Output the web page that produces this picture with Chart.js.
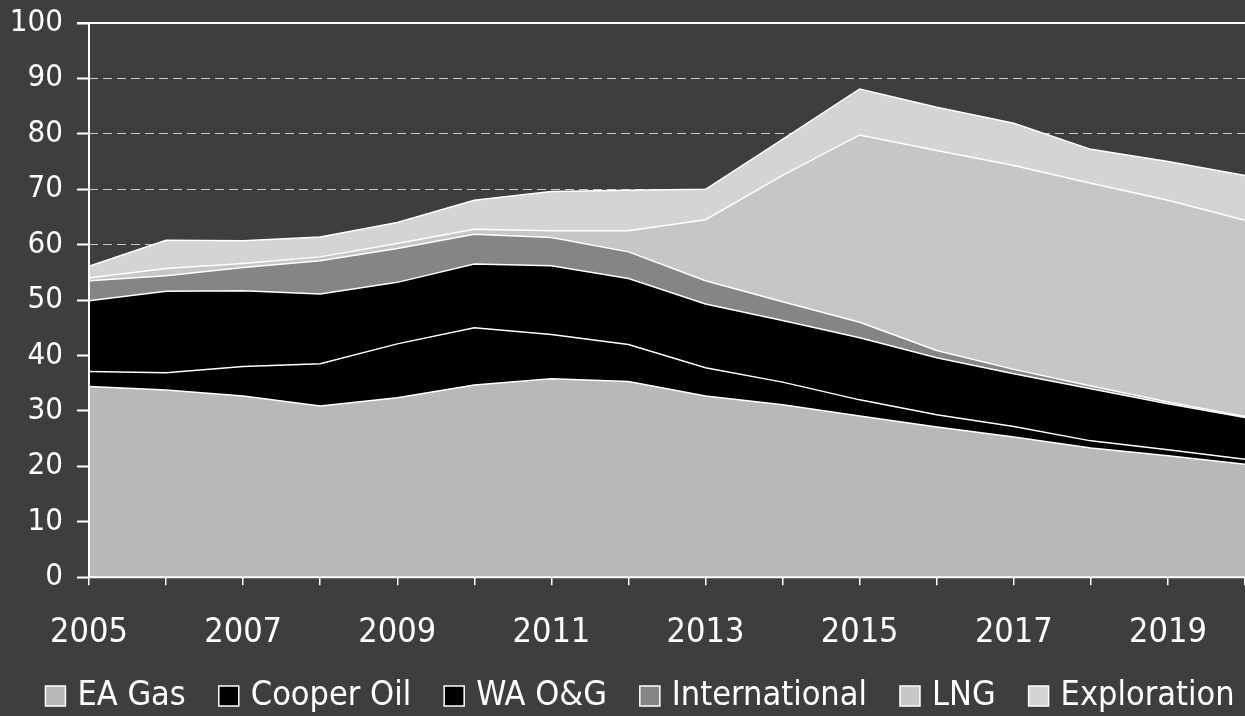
<!DOCTYPE html>
<html>
<head>
<meta charset="utf-8">
<script src="https://cdn.jsdelivr.net/npm/chart.js@4.4.1/dist/chart.umd.min.js"></script>
<style>
  html, body { margin: 0; padding: 0; background: #3e3e3e; }
  #wrap { width: 1245px; height: 716px; position: relative; }
</style>
</head>
<body>
<div id="wrap"><canvas id="chart"></canvas></div>
<script>
// Production by business unit, mmboe per year
const years = ['2005','2006','2007','2008','2009','2010','2011','2012','2013','2014','2015','2016','2017','2018','2019','2020'];
const eaGas        = [34.4, 33.8, 32.7, 30.9, 32.4, 34.7, 35.8, 35.3, 32.7, 31.1, 29.1, 27.1, 25.3, 23.3, 21.9, 20.4];
const cooperOil    = [ 2.7,  3.1,  5.3,  7.6,  9.7, 10.3,  8.0,  6.7,  5.1,  4.1,  2.9,  2.2,  1.9,  1.3,  1.1,  0.9];
const waOG         = [12.8, 14.7, 13.7, 12.6, 11.1, 11.5, 12.4, 11.9, 11.5, 11.1, 11.2, 10.3,  9.5,  9.4,  8.3,  7.5];
const international= [ 3.6,  2.8,  4.2,  6.0,  6.1,  5.4,  5.1,  4.8,  4.2,  3.4,  2.8,  1.3,  0.8,  0.5,  0.3,  0.2];
const lng          = [ 0.5,  1.3,  0.7,  0.7,  0.9,  0.9,  1.2,  3.8, 11.0, 22.8, 33.8, 36.1, 36.8, 36.6, 36.4, 35.4];
const exploration  = [ 2.1,  5.1,  4.1,  3.6,  3.8,  5.2,  7.1,  7.3,  5.5,  6.5,  8.3,  7.8,  7.6,  6.1,  7.0,  8.1];
const yTicks = [0, 10, 20, 30, 40, 50, 60, 70, 80, 90, 100];

const BG = '#3e3e3e';
const FONT = "'DejaVu Sans Condensed', 'DejaVu Sans', sans-serif";

const series = [
  { label: 'EA Gas',        data: eaGas,         color: '#b8b8b8' },
  { label: 'Cooper Oil',    data: cooperOil,     color: '#000000' },
  { label: 'WA O&G',        data: waOG,          color: '#000000' },
  { label: 'International', data: international, color: '#858585' },
  { label: 'LNG',           data: lng,           color: '#c6c6c6' },
  { label: 'Exploration',   data: exploration,   color: '#d4d4d4' }
];

const datasets = series.map((s, i) => ({
  label: s.label,
  data: s.data,
  backgroundColor: s.color,
  borderColor: '#ffffff',
  borderWidth: 1.5,
  fill: i === 0 ? 'origin' : '-1',
  pointRadius: 0,
  tension: 0
}));

// Dark backdrop behind the whole canvas
const backdrop = {
  id: 'backdrop',
  beforeDraw(chart) {
    const { ctx, width, height } = chart;
    ctx.save();
    ctx.fillStyle = BG;
    ctx.fillRect(0, 0, width, height);
    ctx.restore();
  }
};

// Solid axis lines and the frame line at the top value
const frame = {
  id: 'frame',
  afterDatasetsDraw(chart) {
    const { ctx, chartArea: a, scales: { y } } = chart;
    ctx.save();
    ctx.strokeStyle = '#ffffff';
    ctx.lineWidth = 2;
    ctx.beginPath();
    const yTop = y.getPixelForValue(100);
    ctx.moveTo(a.left - 12, yTop);
    ctx.lineTo(a.right, yTop);
    ctx.moveTo(a.left, yTop);
    ctx.lineTo(a.left, a.bottom);
    ctx.lineTo(a.right, a.bottom);
    ctx.stroke();
    ctx.restore();
  }
};

// Single-row legend along the bottom edge
const bottomLegend = {
  id: 'bottomLegend',
  afterDraw(chart) {
    const { ctx } = chart;
    const box = 20, gapText = 12, gapItem = 33, cy = 696;
    ctx.save();
    ctx.font = '34px ' + FONT;
    ctx.textBaseline = 'middle';
    const items = chart.data.datasets.map(d => ({ d, w: ctx.measureText(d.label).width }));
    const total = items.reduce((s, it) => s + box + gapText + it.w, 0) + gapItem * (items.length - 1);
    let x = 640 - total / 2;
    items.forEach(({ d, w }) => {
      ctx.fillStyle = d.backgroundColor;
      ctx.fillRect(x, cy - box / 2, box, box);
      ctx.strokeStyle = '#ffffff';
      ctx.lineWidth = 1.5;
      ctx.strokeRect(x, cy - box / 2, box, box);
      ctx.fillStyle = '#ffffff';
      ctx.textAlign = 'left';
      ctx.fillText(d.label, x + box + gapText, cy);
      x += box + gapText + w + gapItem;
    });
    ctx.restore();
  }
};

Chart.defaults.font.family = FONT;
Chart.defaults.color = '#ffffff';

new Chart(document.getElementById('chart'), {
  type: 'line',
  data: { labels: years, datasets },
  plugins: [backdrop, frame, bottomLegend],
  options: {
    responsive: true,
    maintainAspectRatio: false,
    animation: false,
    layout: { padding: { top: 23, right: 0, left: 0, bottom: 34 } },
    plugins: {
      legend: { display: false },
      tooltip: { enabled: false }
    },
    scales: {
      x: {
        offset: false,
        afterFit(scale) { scale.paddingRight = 0; scale.paddingLeft = 0; },
        grid: { drawOnChartArea: false, color: '#ffffff', tickLength: 8, lineWidth: 1.5 },
        border: { display: false },
        ticks: {
          autoSkip: false,
          maxRotation: 0,
          color: '#ffffff',
          font: { size: 34 },
          padding: 28,
          callback(value, index) { return index % 2 === 0 && index < years.length - 1 ? years[index] : ''; }
        }
      },
      y: {
        stacked: true,
        min: 0,
        max: 100,
        afterFit(scale) { scale.width = 89; scale.paddingTop = 0; scale.paddingBottom = 0; },
        afterBuildTicks(scale) { scale.ticks = yTicks.map(v => ({ value: v })); },
        grid: {
          color: '#c8c8c8',
          lineWidth: 1,
          tickColor: '#ffffff',
          tickLength: 12,
          tickWidth: 2
        },
        border: {
          display: false,
          dash: ctx => [9, 5]
        },
        ticks: {
          color: '#ffffff',
          font: { size: 31 },
          padding: 14
        }
      }
    }
  }
});
</script>
</body>
</html>
